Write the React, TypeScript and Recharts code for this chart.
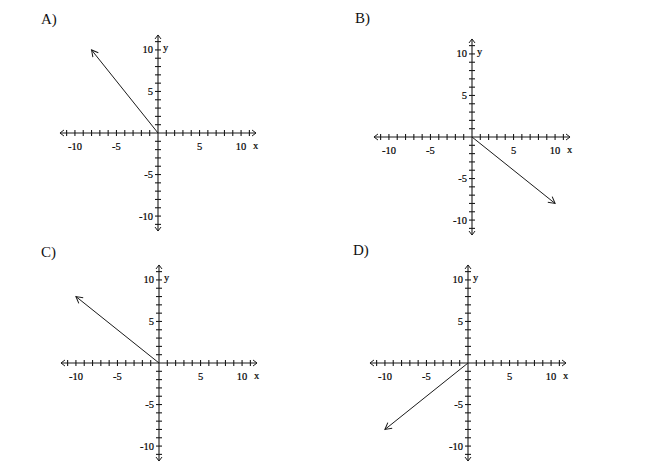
import { ComposedChart, Line, Scatter, XAxis, YAxis } from 'recharts'

// four answer choices, each one ray from the origin
const PANEL_LABELS = ['A)', 'B)', 'C)', 'D)']
const RAY_A = [{ x: 0, y: 0 }, { x: -8, y: 10 }]
const RAY_B = [{ x: 0, y: 0 }, { x: 10, y: -8 }]
const RAY_C = [{ x: 0, y: 0 }, { x: -10, y: 8 }]
const RAY_D = [{ x: 0, y: 0 }, { x: -10, y: -8 }]
const RAYS = [RAY_A, RAY_B, RAY_C, RAY_D]

const TICKS = [-11, -10, -9, -8, -7, -6, -5, -4, -3, -2, -1, 1, 2, 3, 4, 5, 6, 7, 8, 9, 10, 11]
const TICK_LABELS = [-10, -5, 5, 10]
const AXIS_END = 11.8
const DOMAIN: [number, number] = [-13, 13]

const INK = '#1a1a1a'
const SIZE = 216

// where each plane sits on the page (left/top of the chart box, label spot)
const LAYOUT = [
  { left: 50, top: 25, labelLeft: 41, labelTop: 11 },
  { left: 364, top: 29, labelLeft: 355, labelTop: 10 },
  { left: 51, top: 255, labelLeft: 41, labelTop: 244 },
  { left: 360, top: 255, labelLeft: 353, labelTop: 242 },
]

const xAxisLine = [{ x: -AXIS_END, y: 0 }, { x: AXIS_END, y: 0 }]
const yAxisLine = [{ x: 0, y: -AXIS_END }, { x: 0, y: AXIS_END }]
const xTicks = TICKS.map((t) => ({ x: t, y: 0 }))
const yTicks = TICKS.map((t) => ({ x: 0, y: t }))
const xName = [{ x: 11.75, y: 0 }]
const yName = [{ x: 0, y: 10.3 }]

const labelFont = {
  fontFamily: '"Liberation Serif", "DejaVu Serif", serif',
  fontSize: 10.5,
  fill: '#000',
  stroke: '#000',
  strokeWidth: 0.2,
}

function XTick(props: any) {
  const { cx, cy, payload } = props
  const v = payload.x
  return (
    <g>
      <line x1={cx} y1={cy - 3} x2={cx} y2={cy + 3} stroke={INK} strokeWidth={1.1} />
      {TICK_LABELS.includes(v) && (
        <text x={cx} y={cy + 13} textAnchor="middle" dominantBaseline="central" {...labelFont}>
          {v < 0 ? `-${Math.abs(v)}` : v}
        </text>
      )}
    </g>
  )
}

function YTick(props: any) {
  const { cx, cy, payload } = props
  const v = payload.y
  return (
    <g>
      <line x1={cx - 3} y1={cy} x2={cx + 3} y2={cy} stroke={INK} strokeWidth={1.1} />
      {TICK_LABELS.includes(v) && (
        <text x={cx - 5} y={cy} textAnchor="end" dominantBaseline="central" {...labelFont}>
          {v < 0 ? `-${Math.abs(v)}` : v}
        </text>
      )}
    </g>
  )
}

function XName(props: any) {
  return (
    <text x={props.cx} y={props.cy + 12} textAnchor="middle" dominantBaseline="central" {...labelFont}>
      x
    </text>
  )
}

function YName(props: any) {
  return (
    <text x={props.cx + 5} y={props.cy} textAnchor="start" dominantBaseline="central" {...labelFont}>
      y
    </text>
  )
}

function Plane({ idx }: { idx: number }) {
  const pos = LAYOUT[idx]
  const axisArrow = `axisArrow${idx}`
  const rayArrow = `rayArrow${idx}`
  return (
    <>
      <div
        style={{
          position: 'absolute',
          left: pos.labelLeft,
          top: pos.labelTop,
          fontFamily: '"Liberation Serif", serif',
          fontSize: 15,
          color: '#111',
        }}
      >
        {PANEL_LABELS[idx]}
      </div>
      <div style={{ position: 'absolute', left: pos.left, top: pos.top }}>
        <ComposedChart width={SIZE} height={SIZE} margin={{ top: 0, right: 0, bottom: 0, left: 0 }}>
          <defs>
            <marker
              id={axisArrow}
              markerUnits="userSpaceOnUse"
              markerWidth={6}
              markerHeight={8}
              refX={4}
              refY={3}
              orient="auto-start-reverse"
              overflow="visible"
            >
              <path d="M0,0 L4,3 L0,6" fill="none" stroke={INK} strokeWidth={1} />
            </marker>
            <marker
              id={rayArrow}
              markerUnits="userSpaceOnUse"
              markerWidth={8}
              markerHeight={8}
              refX={6.5}
              refY={3.5}
              orient="auto"
              overflow="visible"
            >
              <path d="M0,0 L6.5,3.5 L0,7" fill="none" stroke={INK} strokeWidth={1} />
            </marker>
          </defs>
          <XAxis type="number" dataKey="x" domain={DOMAIN} allowDataOverflow hide />
          <YAxis type="number" dataKey="y" domain={DOMAIN} allowDataOverflow hide />
          <Line
            data={xAxisLine}
            dataKey="y"
            stroke={INK}
            strokeWidth={1.1}
            dot={false}
            activeDot={false}
            markerStart={`url(#${axisArrow})`}
            markerEnd={`url(#${axisArrow})`}
            isAnimationActive={false}
          />
          <Line
            data={yAxisLine}
            dataKey="y"
            stroke={INK}
            strokeWidth={1.1}
            dot={false}
            activeDot={false}
            markerStart={`url(#${axisArrow})`}
            markerEnd={`url(#${axisArrow})`}
            isAnimationActive={false}
          />
          <Scatter data={xTicks} shape={XTick} isAnimationActive={false} />
          <Scatter data={yTicks} shape={YTick} isAnimationActive={false} />
          <Scatter data={xName} shape={XName} isAnimationActive={false} />
          <Scatter data={yName} shape={YName} isAnimationActive={false} />
          <Line
            data={RAYS[idx]}
            dataKey="y"
            stroke={INK}
            strokeWidth={1}
            dot={false}
            activeDot={false}
            markerEnd={`url(#${rayArrow})`}
            isAnimationActive={false}
          />
        </ComposedChart>
      </div>
    </>
  )
}

export default function App() {
  return (
    <div
      style={{
        position: 'absolute',
        left: 0,
        top: 0,
        width: 650,
        height: 464,
        background: '#fff',
        overflow: 'hidden',
      }}
    >
      {PANEL_LABELS.map((_, i) => (
        <Plane key={i} idx={i} />
      ))}
    </div>
  )
}
